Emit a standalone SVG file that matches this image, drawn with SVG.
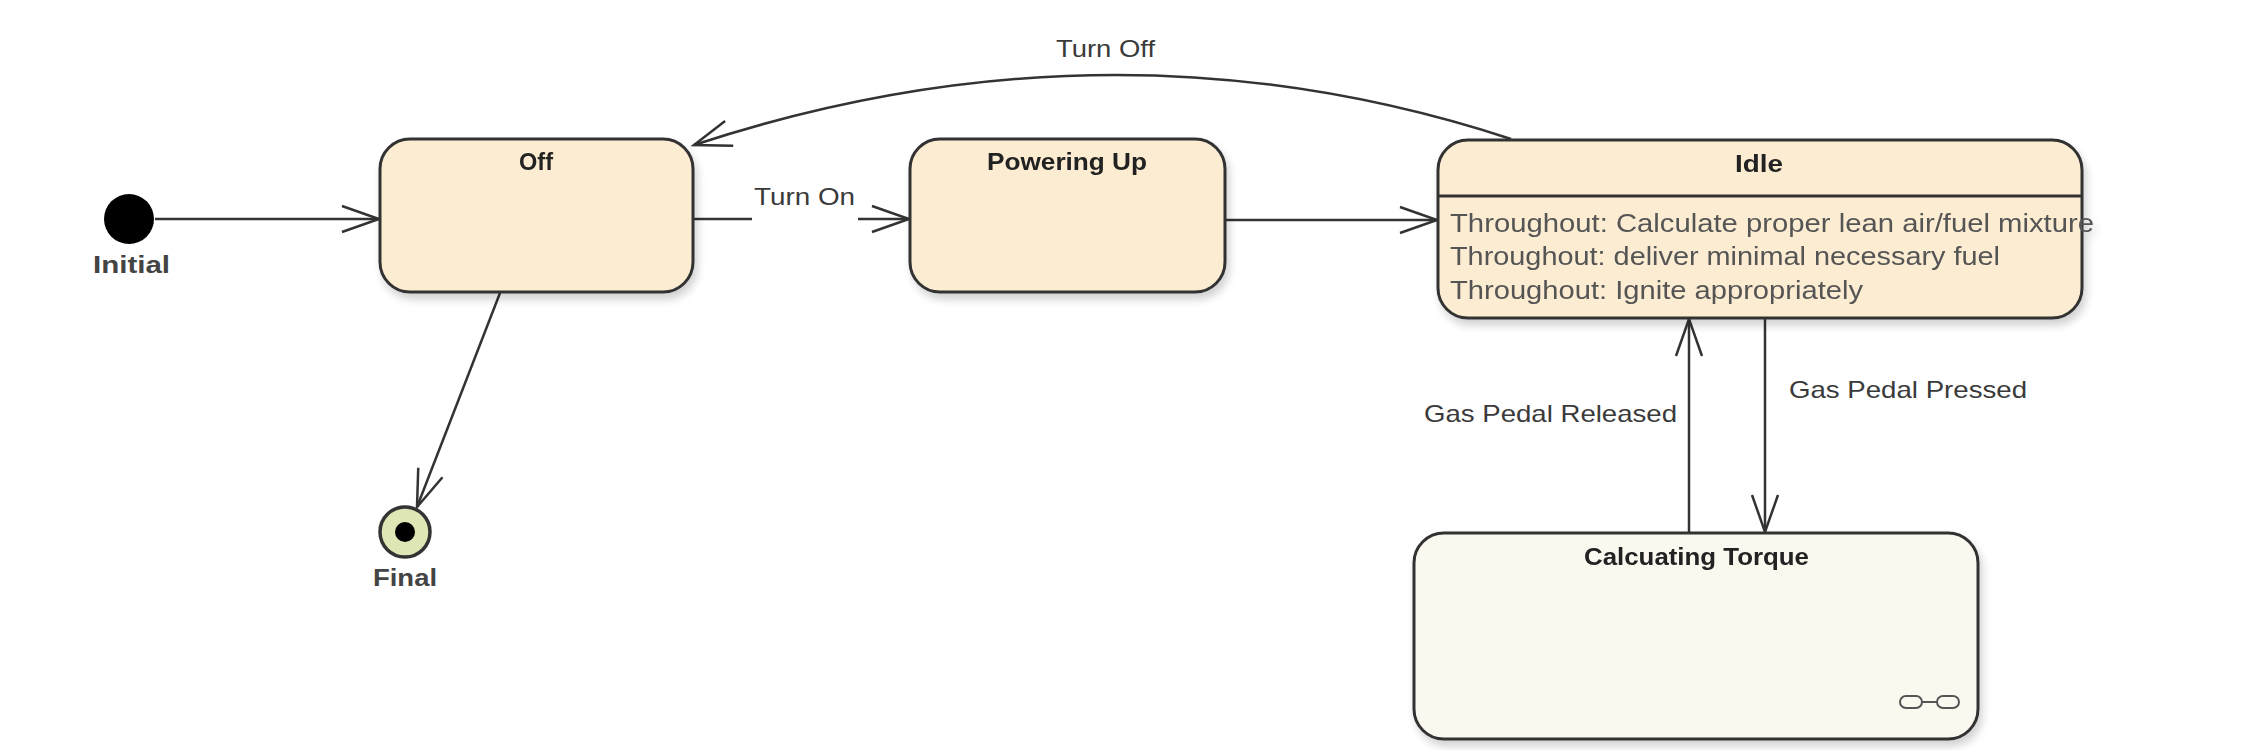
<svg xmlns="http://www.w3.org/2000/svg" width="2243" height="750" viewBox="0 0 2243 750">
<defs>
<style>
.box{fill:#fbecd2;stroke:#333;stroke-width:3}
.box2{fill:#fbf8f0;stroke:#333;stroke-width:3}
.title{font-family:"Liberation Sans",Arial,sans-serif;font-weight:bold;font-size:23px;fill:#222}
.lbl{font-family:"Liberation Sans",Arial,sans-serif;font-size:24px;fill:#3a3a3a}
.nlbl{font-family:"Liberation Sans",Arial,sans-serif;font-weight:bold;font-size:23px;fill:#444}
.act{font-family:"Liberation Sans",Arial,sans-serif;font-size:25px;fill:#555}
.edge{fill:none;stroke:#333;stroke-width:2.5}
</style>
<marker id="arr" markerUnits="userSpaceOnUse" markerWidth="44" markerHeight="34" viewBox="-40 -17 44 34" refX="0" refY="0" orient="auto">
<path d="M-37,-13 L0,0 L-37,13" fill="none" stroke="#333" stroke-width="2.5"/>
</marker>
<filter id="sh" x="-10%" y="-10%" width="130%" height="140%">
<feGaussianBlur in="SourceAlpha" stdDeviation="4"/>
<feOffset dx="3" dy="6" result="b"/>
<feComponentTransfer><feFuncA type="linear" slope="0.18"/></feComponentTransfer>
<feMerge><feMergeNode/><feMergeNode in="SourceGraphic"/></feMerge>
</filter>
</defs>
<rect width="2243" height="750" fill="#fff"/>

<g id="connectors">
<path class="edge" d="M155,219 L379,219" marker-end="url(#arr)"/>
<path class="edge" d="M693,219 L909,219" marker-end="url(#arr)"/>
<rect x="752" y="182" width="106" height="44" fill="#fff"/>
<text class="lbl" x="754" y="205" textLength="101" lengthAdjust="spacingAndGlyphs">Turn On</text>
<path class="edge" d="M1225,220 L1437,220" marker-end="url(#arr)"/>
<path class="edge" d="M1511,139 Q1111,8 694,145" marker-end="url(#arr)"/>
<text class="lbl" x="1056" y="57" textLength="99" lengthAdjust="spacingAndGlyphs">Turn Off</text>
<path class="edge" d="M500,293 L417,507" marker-end="url(#arr)"/>
<path class="edge" d="M1765,318 L1765,532" marker-end="url(#arr)"/>
<text class="lbl" x="1789" y="398" textLength="238" lengthAdjust="spacingAndGlyphs">Gas Pedal Pressed</text>
<path class="edge" d="M1689,532 L1689,319" marker-end="url(#arr)"/>
<text class="lbl" x="1424" y="422" textLength="253" lengthAdjust="spacingAndGlyphs">Gas Pedal Released</text>
</g>

<g id="initial">
<circle cx="129" cy="219" r="25" fill="#000"/>
<text class="nlbl" x="93" y="273" textLength="77" lengthAdjust="spacingAndGlyphs">Initial</text>
</g>

<g id="final">
<circle cx="405" cy="532" r="25" fill="#dde6b4" stroke="#333" stroke-width="3.5"/>
<circle cx="405" cy="532" r="10" fill="#000"/>
<text class="nlbl" x="373" y="586" textLength="64" lengthAdjust="spacingAndGlyphs">Final</text>
</g>

<g id="off" filter="url(#sh)">
<rect class="box" x="380" y="139" width="313" height="153" rx="30" ry="30"/>
<text class="title" x="519" y="170" textLength="34" lengthAdjust="spacingAndGlyphs">Off</text>
</g>

<g id="powering-up" filter="url(#sh)">
<rect class="box" x="910" y="139" width="315" height="153" rx="30" ry="30"/>
<text class="title" x="987" y="170" textLength="160" lengthAdjust="spacingAndGlyphs">Powering Up</text>
</g>

<g id="idle" filter="url(#sh)">
<rect class="box" x="1438" y="140" width="644" height="178" rx="30" ry="30"/>
<line x1="1438" y1="196" x2="2082" y2="196" stroke="#333" stroke-width="3"/>
<text class="title" x="1735" y="172" textLength="48" lengthAdjust="spacingAndGlyphs">Idle</text>
<text class="act" x="1450" y="232" textLength="644" lengthAdjust="spacingAndGlyphs">Throughout: Calculate proper lean air/fuel mixture</text>
<text class="act" x="1450" y="265" textLength="550" lengthAdjust="spacingAndGlyphs">Throughout: deliver minimal necessary fuel</text>
<text class="act" x="1450" y="299" textLength="413" lengthAdjust="spacingAndGlyphs">Throughout: Ignite appropriately</text>
</g>

<g id="calculating-torque" filter="url(#sh)">
<rect class="box2" x="1414" y="533" width="564" height="206" rx="30" ry="30"/>
<text class="title" x="1584" y="565" textLength="225" lengthAdjust="spacingAndGlyphs">Calcuating Torque</text>
<rect x="1900" y="696" width="22" height="12" rx="6" ry="6" fill="none" stroke="#555" stroke-width="2"/>
<line x1="1922" y1="702" x2="1937" y2="702" stroke="#555" stroke-width="2"/>
<rect x="1937" y="696" width="22" height="12" rx="6" ry="6" fill="none" stroke="#555" stroke-width="2"/>
</g>
</svg>
